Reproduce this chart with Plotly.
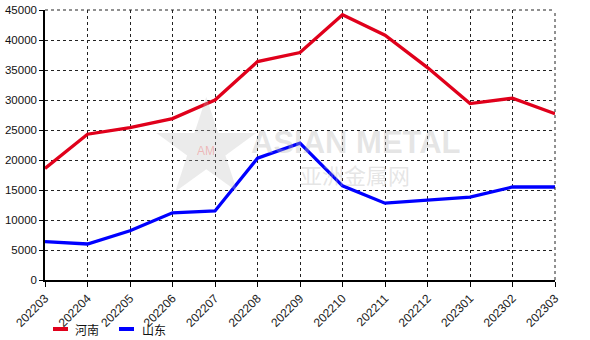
import plotly.graph_objects as go

months = ["202203", "202204", "202205", "202206", "202207", "202208", "202209",
          "202210", "202211", "202212", "202301", "202302", "202303"]
henan = [18600, 24300, 25400, 26900, 30000, 36400, 37900, 44200, 40800, 35400, 29400, 30300, 27700]
shandong = [6400, 6000, 8200, 11200, 11500, 20300, 22800, 15700, 12800, 13300, 13800, 15500, 15500]
series_names = ["河南", "山东"]
series_colors = ["#e0001b", "#0000ff"]
y_ticks = [0, 5000, 10000, 15000, 20000, 25000, 30000, 35000, 40000, 45000]

fig = go.Figure()
for name, vals, col in zip(series_names, [henan, shandong], series_colors):
    fig.add_trace(go.Scatter(x=months, y=vals, mode="lines", name=name,
                             line=dict(color=col, width=3.3), showlegend=False))

font = "Arial, Liberation Sans, sans-serif"
fig.update_layout(
    width=590, height=340,
    margin=dict(l=45, r=35, t=10, b=60, autoexpand=False),
    paper_bgcolor="white", plot_bgcolor="white",
    font=dict(family=font, size=11, color="#111"),
    xaxis=dict(type="category", categoryorder="array", categoryarray=months,
               range=[0, len(months) - 1], tickangle=-45, automargin=False,
               showgrid=True, gridcolor="#222", griddash="dot", gridwidth=1,
               showline=True, linecolor="black", linewidth=1.5,
               ticks="outside", ticklen=5, tickcolor="black",
               tickfont=dict(size=12, color="#222"), zeroline=False, mirror=False),
    yaxis=dict(range=[0, 45000], tickvals=y_ticks, ticktext=[str(v) for v in y_ticks],
               automargin=False,
               showgrid=True, gridcolor="#222", griddash="dot", gridwidth=1,
               showline=True, linecolor="black", linewidth=1.5,
               ticks="outside", ticklen=4, tickcolor="black",
               tickfont=dict(size=11.5, color="#111"), zeroline=False),
)

# dotted top and right border
fig.add_shape(type="line", xref="paper", yref="paper", x0=0, x1=1, y0=1, y1=1,
              line=dict(color="#222", width=1, dash="dot"))
fig.add_shape(type="line", xref="paper", yref="paper", x0=1, x1=1, y0=0, y1=1,
              line=dict(color="#222", width=1, dash="dot"))

# watermark
fig.add_annotation(text="★", xref="paper", yref="paper", x=(146 - 45) / 510, y=(280 - 146) / 270,
                   showarrow=False, font=dict(size=130, color="rgba(190,190,190,0.3)"))
fig.add_annotation(text="AM", xref="paper", yref="paper", x=(195 - 45) / 510, y=(280 - 151) / 270,
                   showarrow=False, font=dict(size=12, color="rgba(240,120,120,0.45)", family=font))
fig.add_annotation(text="<b>ASIAN METAL</b>", xref="paper", yref="paper", x=(356 - 45) / 510,
                   y=(280 - 142) / 270, showarrow=False,
                   font=dict(size=31, color="rgba(180,180,180,0.35)", family=font))
fig.add_annotation(text="亚洲金属网", xref="paper", yref="paper", x=(355 - 45) / 510,
                   y=(280 - 174) / 270, showarrow=False,
                   font=dict(size=22, color="rgba(180,180,180,0.35)", family="Noto Sans CJK SC"))

# legend drawn manually
leg = [(53, 68, 73), (119, 134, 140)]
for (x0, x1, tx), name, col in zip(leg, series_names, series_colors):
    fig.add_shape(type="line", xref="paper", yref="paper",
                  x0=(x0 - 45) / 510, x1=(x1 - 45) / 510,
                  y0=(280 - 329) / 270, y1=(280 - 329) / 270,
                  line=dict(color=col, width=4))
    fig.add_annotation(text=name, xref="paper", yref="paper", x=(tx - 45) / 510,
                       y=(280 - 329) / 270, xanchor="left", yanchor="middle",
                       showarrow=False, font=dict(size=12, color="#111", family="Noto Sans CJK SC"))

fig.write_html("out.html")
